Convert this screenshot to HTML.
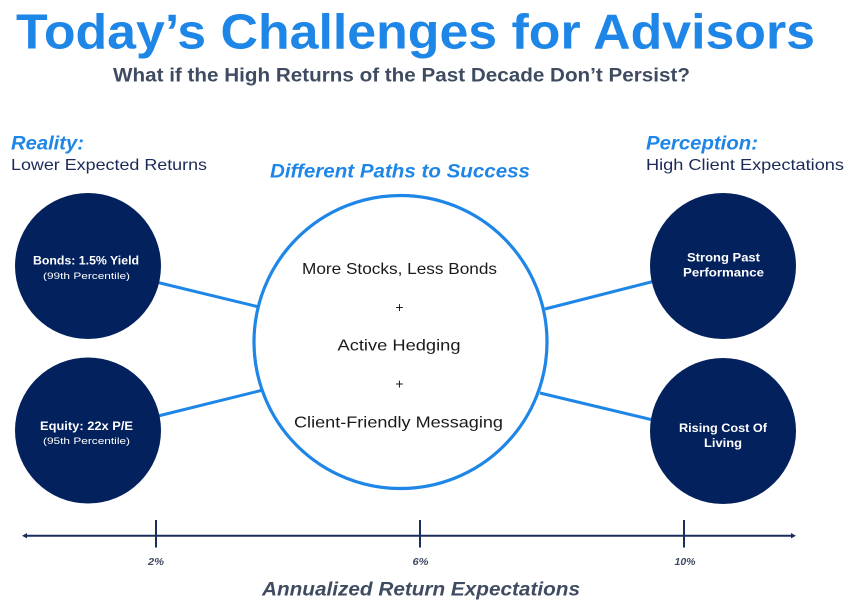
<!DOCTYPE html>
<html>
<head>
<meta charset="utf-8">
<style>
  html,body{margin:0;padding:0;background:#fff;}
  svg{display:block;}
  text{font-family:"Liberation Sans",sans-serif;}
</style>
</head>
<body>
<svg width="858" height="606" viewBox="0 0 858 606" xmlns="http://www.w3.org/2000/svg">
  <rect width="858" height="606" fill="#ffffff"/>

  <!-- Title -->
  <text x="16" y="48.5" font-size="49" font-weight="bold" fill="#1E86E6" textLength="799" lengthAdjust="spacingAndGlyphs">Today’s Challenges for Advisors</text>
  <text x="113" y="81.5" font-size="19" font-weight="bold" fill="#3F4B61" textLength="577" lengthAdjust="spacingAndGlyphs">What if the High Returns of the Past Decade Don’t Persist?</text>

  <!-- Left heading -->
  <text x="11" y="149.5" font-size="19" font-weight="bold" font-style="italic" fill="#1E86E6" textLength="73" lengthAdjust="spacingAndGlyphs">Reality:</text>
  <text x="11" y="170" font-size="16" fill="#1B2A57" textLength="196" lengthAdjust="spacingAndGlyphs">Lower Expected Returns</text>

  <!-- Right heading -->
  <text x="646" y="149.5" font-size="19" font-weight="bold" font-style="italic" fill="#1E86E6" textLength="112" lengthAdjust="spacingAndGlyphs">Perception:</text>
  <text x="646" y="170" font-size="16" fill="#1B2A57" textLength="198" lengthAdjust="spacingAndGlyphs">High Client Expectations</text>

  <!-- Center heading -->
  <text x="270" y="177.5" font-size="19" font-weight="bold" font-style="italic" fill="#1E86E6" textLength="260" lengthAdjust="spacingAndGlyphs">Different Paths to Success</text>

  <!-- Connectors -->
  <g stroke="#1E86E6" stroke-width="3" fill="none">
    <line x1="158" y1="282.5" x2="257" y2="306.5"/>
    <line x1="158" y1="416" x2="261" y2="390.5"/>
    <line x1="545" y1="309" x2="653" y2="281.5"/>
    <line x1="540" y1="393" x2="653" y2="420"/>
  </g>

  <!-- Center circle -->
  <circle cx="400.5" cy="342" r="146.5" fill="#ffffff" stroke="#1E86E6" stroke-width="3.2"/>

  <g fill="#1A1A1A" font-size="16" text-anchor="middle">
    <text x="399.5" y="274" textLength="195" lengthAdjust="spacingAndGlyphs">More Stocks, Less Bonds</text>
    <text x="399.5" y="312" font-size="14">+</text>
    <text x="399" y="350.5" textLength="123" lengthAdjust="spacingAndGlyphs">Active Hedging</text>
    <text x="399.5" y="388.5" font-size="14">+</text>
    <text x="398.5" y="427.5" textLength="209" lengthAdjust="spacingAndGlyphs">Client-Friendly Messaging</text>
  </g>

  <!-- Navy circles -->
  <g fill="#03215C">
    <circle cx="88" cy="266" r="73"/>
    <circle cx="88" cy="430.5" r="73"/>
    <circle cx="723" cy="266" r="73"/>
    <circle cx="723" cy="431" r="73"/>
  </g>

  <g fill="#ffffff" text-anchor="middle">
    <text x="86" y="264.5" font-size="12" font-weight="bold" textLength="106" lengthAdjust="spacingAndGlyphs">Bonds: 1.5% Yield</text>
    <text x="86.5" y="279" font-size="9.5" textLength="87" lengthAdjust="spacingAndGlyphs">(99th Percentile)</text>

    <text x="86.5" y="430" font-size="12" font-weight="bold" textLength="93" lengthAdjust="spacingAndGlyphs">Equity: 22x P/E</text>
    <text x="86.5" y="444" font-size="9.5" textLength="87" lengthAdjust="spacingAndGlyphs">(95th Percentile)</text>

    <text x="723.5" y="261.5" font-size="12" font-weight="bold" textLength="73" lengthAdjust="spacingAndGlyphs">Strong Past</text>
    <text x="723.5" y="276.5" font-size="12" font-weight="bold" textLength="81" lengthAdjust="spacingAndGlyphs">Performance</text>

    <text x="723" y="432" font-size="12" font-weight="bold" textLength="88" lengthAdjust="spacingAndGlyphs">Rising Cost Of</text>
    <text x="723" y="447" font-size="12" font-weight="bold" textLength="38" lengthAdjust="spacingAndGlyphs">Living</text>
  </g>

  <!-- Axis -->
  <g stroke="#1B2D5C" stroke-width="2" fill="none">
    <line x1="24" y1="535.7" x2="794" y2="535.7"/>
    <line x1="156" y1="520" x2="156" y2="547.5"/>
    <line x1="420" y1="520" x2="420" y2="547.5"/>
    <line x1="684" y1="520" x2="684" y2="547.5"/>
  </g>
  <polygon points="22,535.7 27,533 27,538.4" fill="#1B2D5C"/>
  <polygon points="796,535.7 791,533 791,538.4" fill="#1B2D5C"/>

  <g fill="#3F4B61" font-size="10.5" font-weight="bold" font-style="italic">
    <text x="148" y="565" textLength="16" lengthAdjust="spacingAndGlyphs">2%</text>
    <text x="412.5" y="565" textLength="16" lengthAdjust="spacingAndGlyphs">6%</text>
    <text x="674.5" y="565" textLength="21" lengthAdjust="spacingAndGlyphs">10%</text>
  </g>

  <text x="262" y="595.5" font-size="19" font-weight="bold" font-style="italic" fill="#3F4B61" textLength="318" lengthAdjust="spacingAndGlyphs">Annualized Return Expectations</text>
</svg>
</body>
</html>
